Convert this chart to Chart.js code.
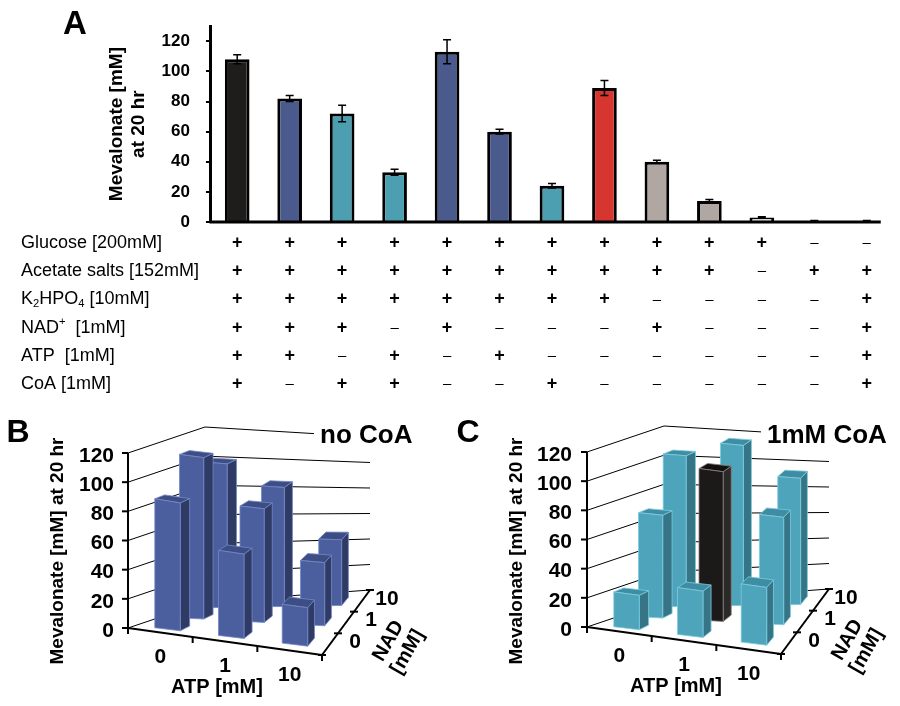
<!DOCTYPE html>
<html>
<head>
<meta charset="utf-8">
<script src="https://cdn.jsdelivr.net/npm/chart.js@4.4.1/dist/chart.umd.min.js"></script>
<style>
  html, body { margin: 0; padding: 0; background: #fff; }
  #wrap { position: relative; width: 900px; height: 706px; overflow: hidden; }
  canvas { position: absolute; }
</style>
</head>
<body>
<div id="wrap">
  <canvas id="chartA" width="900" height="420" style="left:0;top:0"></canvas>
  <canvas id="chartB" width="450" height="286" style="left:0;top:420px"></canvas>
  <canvas id="chartC" width="450" height="286" style="left:450px;top:420px"></canvas>
</div>
<script>
const FONT = "'Liberation Sans', Arial, Helvetica, sans-serif";

// Panel A: mevalonate per medium composition
const expLabels = ["1", "2", "3", "4", "5", "6", "7", "8", "9", "10", "11", "12", "13"];
const mevalonateA = [108, 82, 72, 33, 113, 60, 24, 89, 40, 14, 3, 0.4, 0.4];
const errorA = [3, 2, 5.5, 2, 8, 1.5, 1.5, 5, 1, 1, 0.5, 0.6, 0.6];
const yTicksA = [0, 20, 40, 60, 80, 100, 120];

// table of components (1 = +, 0 = -)
const glucose   = [1, 1, 1, 1, 1, 1, 1, 1, 1, 1, 1, 0, 0];
const acetate   = [1, 1, 1, 1, 1, 1, 1, 1, 1, 1, 0, 1, 1];
const phosphate = [1, 1, 1, 1, 1, 1, 1, 1, 0, 0, 0, 0, 1];
const nadPlus   = [1, 1, 1, 0, 1, 0, 0, 0, 1, 0, 0, 0, 1];
const atpPlus   = [1, 1, 0, 1, 0, 1, 0, 0, 0, 0, 0, 0, 1];
const coaPlus   = [1, 0, 1, 1, 0, 0, 1, 0, 0, 0, 0, 0, 1];

// Panels B & C: ATP x NAD grid
const atpLevels = ["0", "1", "10"];
const nadLevels = ["0", "1", "10"];
const ticks3d = [0, 20, 40, 60, 80, 100, 120];
const noCoA_nad0  = [89, 60, 28];
const noCoA_nad1  = [113, 82, 47];
const noCoA_nad10 = [101, 87, 50];
const coA_nad0  = [24, 33, 42];
const coA_nad1  = [72, 108, 80];
const coA_nad10 = [106, 117, 96];

const BLACK = "#1e1d1b", BLUE = "#4b5a8c", TEAL = "#4b9fb1", RED = "#d6362f", GREY = "#b0a7a2";
const barColorsA = [BLACK, BLUE, TEAL, TEAL, BLUE, BLUE, TEAL, RED, GREY, GREY, "#e4ddd8", GREY, GREY];

const rowLabels = [
  [["Glucose [200mM]"]],
  [["Acetate salts [152mM]"]],
  [["K"], ["2", "sub"], ["HPO"], ["4", "sub"], [" [10mM]"]],
  [["NAD"], ["+", "sup"], ["  [1mM]"]],
  [["ATP  [1mM]"]],
  [["CoA [1mM]"]],
];
const rowValues = [glucose, acetate, phosphate, nadPlus, atpPlus, coaPlus];

function drawRich(ctx, segs, x, y, size) {
  let cx = x;
  segs.forEach(([t, kind]) => {
    let s = size, dy = 0;
    if (kind === "sub") { s = size * 0.62; dy = size * 0.25; }
    if (kind === "sup") { s = size * 0.62; dy = -size * 0.32; }
    ctx.font = s + "px " + FONT;
    ctx.fillText(t, cx, y + dy);
    cx += ctx.measureText(t).width;
  });
}

const panelAPlugin = {
  id: "panelA",
  afterDatasetsDraw(chart) {
    const ctx = chart.ctx;
    const xs = chart.scales.x, ys = chart.scales.y;
    ctx.save();
    ctx.strokeStyle = "#000";
    ctx.lineWidth = 1.5;
    mevalonateA.forEach((v, i) => {
      const e = errorA[i];
      if (!e) return;
      const x = xs.getPixelForValue(i);
      const yTop = ys.getPixelForValue(v + e);
      const yBot = ys.getPixelForValue(Math.max(0, v - e));
      ctx.beginPath();
      ctx.moveTo(x, yTop); ctx.lineTo(x, yBot);
      ctx.moveTo(x - 4, yTop); ctx.lineTo(x + 4, yTop);
      ctx.moveTo(x - 4, yBot); ctx.lineTo(x + 4, yBot);
      ctx.stroke();
    });
    // x axis line
    const y0 = ys.getPixelForValue(0);
    ctx.lineWidth = 3;
    ctx.beginPath();
    ctx.moveTo(chart.chartArea.left - 1.5, y0);
    ctx.lineTo(xs.getPixelForValue(expLabels.length - 1) + 14, y0);
    ctx.stroke();
    ctx.restore();
  },
  afterDraw(chart) {
    const ctx = chart.ctx;
    const xs = chart.scales.x, ys = chart.scales.y;
    const y0 = ys.getPixelForValue(0);
    ctx.save();
    ctx.fillStyle = "#000";
    ctx.textBaseline = "middle";
    // panel letter
    ctx.font = "bold 33px " + FONT;
    ctx.textAlign = "center";
    ctx.fillText("A", 75, 25);
    // composition table
    rowLabels.forEach((segs, r) => {
      const y = y0 + 21 + r * 28.2;
      ctx.textAlign = "left";
      drawRich(ctx, segs, 21, y, 18);
      ctx.textAlign = "center";
      rowValues[r].forEach((on, i) => {
        const x = xs.getPixelForValue(i);
        if (on) {
          ctx.font = "bold 18px " + FONT;
          ctx.fillText("+", x, y);
        } else {
          ctx.font = "15px " + FONT;
          ctx.fillText("\u2013", x, y);
        }
      });
    });
    ctx.restore();
  },
};

new Chart(document.getElementById("chartA"), {
  type: "bar",
  data: {
    labels: expLabels,
    datasets: [{
      data: mevalonateA,
      backgroundColor: barColorsA,
      borderColor: "#000",
      borderWidth: 3,
      borderSkipped: "bottom",
      barPercentage: 0.47,
      categoryPercentage: 1.0,
    }],
  },
  options: {
    responsive: false,
    animation: false,
    layout: { padding: { left: 80, right: 7, top: 8, bottom: 198 } },
    plugins: { legend: { display: false }, tooltip: { enabled: false } },
    scales: {
      x: {
        grid: { display: false, drawTicks: false },
        border: { display: false },
        ticks: { display: false },
      },
      y: {
        min: 0,
        max: 130,
        afterBuildTicks: (s) => { s.ticks = yTicksA.map((v) => ({ value: v })); },
        grid: { drawOnChartArea: false, drawTicks: true, tickLength: 5, color: "#000", lineWidth: 2 },
        border: { display: true, color: "#000", width: 3 },
        ticks: { color: "#000", padding: 16, font: { family: FONT, size: 17, weight: "bold" } },
        title: {
          display: true,
          text: ["Mevalonate [mM]", "at 20 hr"],
          color: "#000",
          padding: { top: 25, bottom: -5 },
          font: { family: FONT, size: 19, weight: "bold", lineHeight: 1.2 },
        },
      },
    },
  },
  plugins: [panelAPlugin],
});

// ---- 3D-style column panels
function lerp(a, b, t) { return a + (b - a) * t; }

function makeProjector(g) {
  return function (u, v, w) {
    const lx = lerp(g.O[0], g.BL[0], v), ly = lerp(g.O[1], g.BL[1], v);
    const rx = lerp(g.FR[0], g.BR[0], v), ry = lerp(g.FR[1], g.BR[1], v);
    const h = lerp(lerp(g.hO, g.hBL, v), lerp(g.hFR, g.hBR, v), u);
    return [lerp(lx, rx, u), lerp(ly, ry, u) - w * h];
  };
}

function shiftGeom(g, dx, dy) {
  const s = (p) => [p[0] + dx, p[1] + dy];
  return { O: s(g.O), FR: s(g.FR), BL: s(g.BL), BR: s(g.BR), hO: g.hO, hFR: g.hFR, hBL: g.hBL, hBR: g.hBR };
}

const geomB = { O: [128, 208], FR: [322, 235], BL: [205, 182], BR: [370, 170], hO: 175, hFR: 165, hBL: 175, hBR: 153 };
const geomC = shiftGeom(geomB, 9, -1);

const PAL_BLUE = { front: "#4b5f9e", side: "#2f3b64", top: "#3d4e84", edge: "#7388c6" };
const PAL_TEAL = { front: "#4ea4bb", side: "#367585", top: "#3f8da2", edge: "#7ccbe0" };
const PAL_BLACK = { front: "#1c1a19", side: "#2c2a28", top: "#121110", edge: "#8a8380" };

function box3dPlugin(cfg) {
  const P = makeProjector(cfg.geom);
  const line = (ctx, a, b) => { ctx.beginPath(); ctx.moveTo(a[0], a[1]); ctx.lineTo(b[0], b[1]); ctx.stroke(); };
  const poly = (ctx, pts, fill, edge) => {
    ctx.beginPath();
    ctx.moveTo(pts[0][0], pts[0][1]);
    for (let k = 1; k < pts.length; k++) ctx.lineTo(pts[k][0], pts[k][1]);
    ctx.closePath();
    ctx.fillStyle = fill;
    ctx.fill();
    ctx.strokeStyle = edge;
    ctx.lineWidth = 0.8;
    ctx.stroke();
  };
  const fracOf = (chart) => {
    const ys = chart.scales.y;
    const full = ys.getPixelForValue(0) - ys.getPixelForValue(ys.max);
    return (val) => (ys.getPixelForValue(0) - ys.getPixelForValue(val)) / full;
  };
  return {
    id: "box3d",
    beforeDatasetsDraw(chart) {
      const ctx = chart.ctx, ys = chart.scales.y, frac = fracOf(chart);
      ctx.save();
      ctx.strokeStyle = "#000";
      ctx.lineWidth = 1;
      ys.ticks.forEach((t) => {
        const w = frac(t.value);
        line(ctx, P(0, 0, w), P(0, 1, w));
        line(ctx, P(0, 1, w), P(1, 1, w));
      });
      ctx.lineWidth = 2;
      line(ctx, P(0, 0, 0), P(0, 0, 1));
      line(ctx, P(0, 0, 0), P(1, 0, 0));
      line(ctx, P(1, 0, 0), P(1, 1, 0));
      ys.ticks.forEach((t) => {
        const p = P(0, 0, frac(t.value));
        line(ctx, p, [p[0] - 6, p[1]]);
      });
      const nc = chart.data.labels.length, nr = chart.data.datasets.length;
      for (let k = 0; k <= nc; k++) {
        const p = P(k / nc, 0, 0);
        line(ctx, p, [p[0], p[1] + 6]);
      }
      for (let k = 0; k <= nr; k++) {
        const p = P(1, k / nr, 0);
        line(ctx, [p[0] - 4, p[1]], [p[0] + 4, p[1]]);
      }
      ctx.restore();
    },
    afterDatasetsDraw(chart) {
      const ctx = chart.ctx, area = chart.chartArea, frac = fracOf(chart);
      const ys = chart.scales.y;
      const full = ys.getPixelForValue(0) - ys.getPixelForValue(ys.max);
      const n = chart.data.datasets.length;
      ctx.save();
      for (let j = n - 1; j >= 0; j--) {
        const meta = chart.getDatasetMeta(j);
        meta.data.forEach((el, i) => {
          const u0 = (el.x - el.width / 2 - area.left) / area.width;
          const u1 = (el.x + el.width / 2 - area.left) / area.width;
          const v0 = (j + (1 - cfg.depth) / 2) / n, v1 = v0 + cfg.depth / n;
          const w = (el.base - el.y) / full;
          const pal = cfg.palette(j, i);
          poly(ctx, [P(u1, v0, 0), P(u1, v1, 0), P(u1, v1, w), P(u1, v0, w)], pal.side, pal.edge);
          poly(ctx, [P(u0, v0, w), P(u1, v0, w), P(u1, v1, w), P(u0, v1, w)], pal.top, pal.edge);
          poly(ctx, [P(u0, v0, 0), P(u1, v0, 0), P(u1, v0, w), P(u0, v0, w)], pal.front, pal.edge);
        });
      }
      ctx.restore();
    },
    afterDraw(chart) {
      const ctx = chart.ctx, ys = chart.scales.y, frac = fracOf(chart);
      const nc = chart.data.labels.length, nr = chart.data.datasets.length;
      ctx.save();
      ctx.fillStyle = "#000";
      ctx.textBaseline = "middle";
      // value ticks
      ctx.font = "bold 21px " + FONT;
      ctx.textAlign = "right";
      ys.ticks.forEach((t) => {
        const p = P(0, 0, frac(t.value));
        ctx.fillText(String(t.value), p[0] - cfg.tickGap, p[1] + 3);
      });
      // ATP categories
      ctx.textAlign = "center";
      chart.data.labels.forEach((lab, i) => {
        const p = P((i + 0.5) / nc, 0, 0);
        ctx.fillText(lab, p[0], p[1] + 25);
      });
      // NAD categories
      cfg.depthLabels.forEach((lab, j) => {
        const p = P(1, (j + 0.5) / nr, 0);
        ctx.fillText(lab, p[0] + 25, p[1] - 2);
      });
      // axis titles
      ctx.font = "bold 20px " + FONT;
      const pa = P(0.5, 0, 0);
      ctx.fillText("ATP [mM]", pa[0] - 8, pa[1] + 46);
      const pn = P(1, 0.5, 0);
      ctx.save();
      ctx.translate(pn[0] + 52, pn[1] + 24);
      ctx.rotate(-60 * Math.PI / 180);
      ctx.fillText("NAD", 0, -11);
      ctx.fillText("[mM]", 0, 11);
      ctx.restore();
      ctx.save();
      ctx.font = "bold 19px " + FONT;
      ctx.translate(cfg.yTitleX, 131);
      ctx.rotate(-Math.PI / 2);
      ctx.fillText("Mevalonate [mM] at 20 hr", 0, 0);
      ctx.restore();
      // panel letter and corner title
      ctx.font = "bold 32px " + FONT;
      ctx.fillText(cfg.letter, 18, 13);
      ctx.font = "bold 26px " + FONT;
      ctx.textAlign = "left";
      const tw = ctx.measureText(cfg.title).width;
      ctx.fillStyle = "#fff";
      ctx.fillRect(cfg.titleX - 6, 2, tw + 12, 26);
      ctx.fillStyle = "#000";
      ctx.fillText(cfg.title, cfg.titleX, 16);
      ctx.restore();
    },
  };
}

function make3dChart(id, rows, cfg) {
  new Chart(document.getElementById(id), {
    type: "bar",
    data: {
      labels: atpLevels,
      datasets: rows.map((r, j) => ({
        label: "NAD " + nadLevels[j],
        data: r,
        backgroundColor: "rgba(0,0,0,0)",
        borderWidth: 0,
        grouped: false,
        barPercentage: 0.4,
        categoryPercentage: 1.0,
      })),
    },
    options: {
      responsive: false,
      animation: false,
      plugins: { legend: { display: false }, tooltip: { enabled: false } },
      scales: {
        x: { display: false },
        y: {
          display: false,
          min: 0,
          max: 120,
          afterBuildTicks: (s) => { s.ticks = ticks3d.map((v) => ({ value: v })); },
        },
      },
    },
    plugins: [box3dPlugin(cfg)],
  });
}

make3dChart("chartB", [noCoA_nad0, noCoA_nad1, noCoA_nad10], {
  geom: geomB,
  depth: 0.4,
  depthLabels: nadLevels,
  palette: () => PAL_BLUE,
  tickGap: 14,
  yTitleX: 58,
  letter: "B",
  title: "no CoA",
  titleX: 320,
});

make3dChart("chartC", [coA_nad0, coA_nad1, coA_nad10], {
  geom: geomC,
  depth: 0.4,
  depthLabels: nadLevels,
  palette: (j, i) => (j === 1 && i === 1 ? PAL_BLACK : PAL_TEAL),
  tickGap: 15,
  yTitleX: 67,
  letter: "C",
  title: "1mM CoA",
  titleX: 317,
});
</script>
</body>
</html>
